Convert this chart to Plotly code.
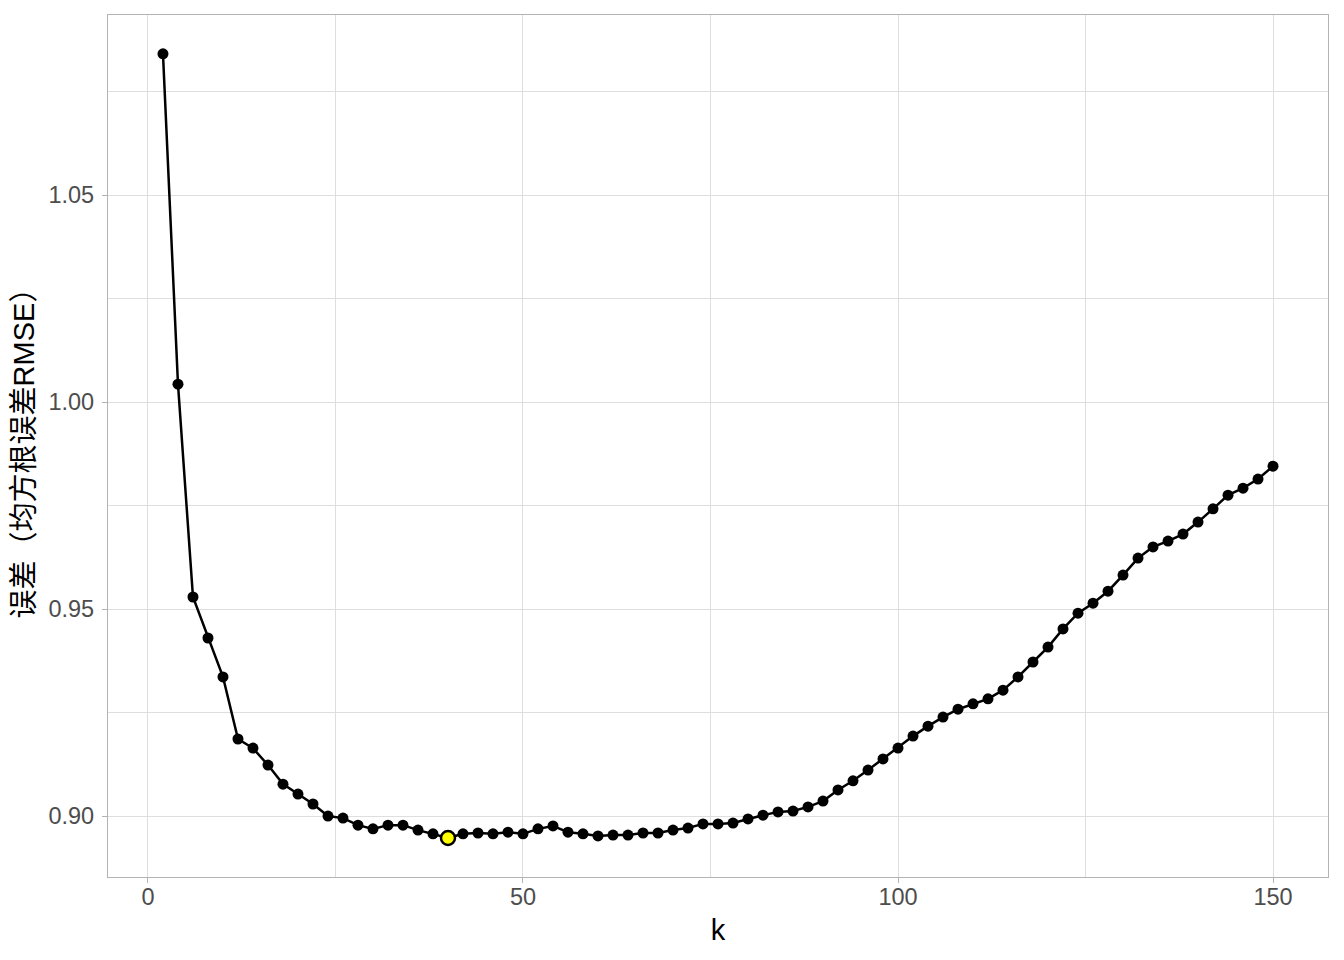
import plotly.graph_objects as go

k_values = list(range(2, 151, 2))
rmse = [
    1.0841, 1.0043, 0.9529, 0.9430, 0.9336, 0.9186, 0.9164, 0.9123, 0.9077, 0.9053,
    0.9029, 0.9000, 0.8995, 0.8978, 0.8969, 0.8978, 0.8978, 0.8966, 0.8957, 0.8947,
    0.8957, 0.8959, 0.8957, 0.8961, 0.8957, 0.8969, 0.8976, 0.8961, 0.8957, 0.8952,
    0.8954, 0.8954, 0.8959, 0.8959, 0.8966, 0.8971, 0.8981, 0.8981, 0.8983, 0.8993,
    0.9002, 0.9010, 0.9012, 0.9022, 0.9036, 0.9063, 0.9085, 0.9111, 0.9138, 0.9164,
    0.9193, 0.9217, 0.9239, 0.9258, 0.9271, 0.9283, 0.9304, 0.9336, 0.9372, 0.9408,
    0.9452, 0.9490, 0.9514, 0.9543, 0.9582, 0.9623, 0.9650, 0.9664, 0.9681, 0.9710,
    0.9742, 0.9775, 0.9792, 0.9814, 0.9845,
]
best_k = [40]
best_rmse = [0.8947]

x_title = "k"
y_title = "误差（均方根误差RMSE）"

fig = go.Figure()
fig.add_trace(go.Scatter(
    x=k_values, y=rmse, mode="lines+markers",
    line=dict(color="black", width=2.5),
    marker=dict(color="black", size=11),
    showlegend=False, hoverinfo="x+y",
))
fig.add_trace(go.Scatter(
    x=best_k, y=best_rmse, mode="markers",
    marker=dict(color="#FFFF00", size=14, line=dict(color="black", width=2.5)),
    showlegend=False,
))

grid = "#dedede"
border = "#b3b3b3"
tickfont = dict(family="Liberation Sans, Arial, sans-serif", size=23.5, color="#4d4d4d")
titlefont = dict(family="Liberation Sans, Noto Sans CJK SC, sans-serif", size=29, color="black")

# page body has an 8px margin; figure placed at (8, 8)
fig.update_layout(
    width=1336, height=952,
    margin=dict(l=100, r=16, t=7, b=83),
    paper_bgcolor="white", plot_bgcolor="white",
)
fig.update_xaxes(
    range=[-5.33, 157.33], tick0=0, dtick=50,
    showgrid=True, gridcolor=grid, gridwidth=1.2,
    minor=dict(dtick=25, tick0=0, showgrid=True, gridcolor=grid, gridwidth=0.7, ticks=""),
    zeroline=False, showline=True, mirror=True, linecolor=border, linewidth=1.3,
    ticks="outside", ticklen=5, tickcolor=border, tickwidth=1.2,
    tickfont=tickfont, ticklabelstandoff=-6,
    title=dict(text=x_title, font=titlefont, standoff=10),
)
fig.update_yaxes(
    range=[0.88527, 1.09348], tick0=0.9, dtick=0.05, tickformat=".2f",
    showgrid=True, gridcolor=grid, gridwidth=1.2,
    minor=dict(dtick=0.025, tick0=0.9, showgrid=True, gridcolor=grid, gridwidth=0.7, ticks=""),
    zeroline=False, showline=True, mirror=True, linecolor=border, linewidth=1.3,
    ticks="outside", ticklen=5, tickcolor=border, tickwidth=1.2,
    tickfont=tickfont, ticklabelstandoff=3,
    title=dict(text=y_title, font=titlefont, standoff=8),
)

fig.write_html("out.html")
